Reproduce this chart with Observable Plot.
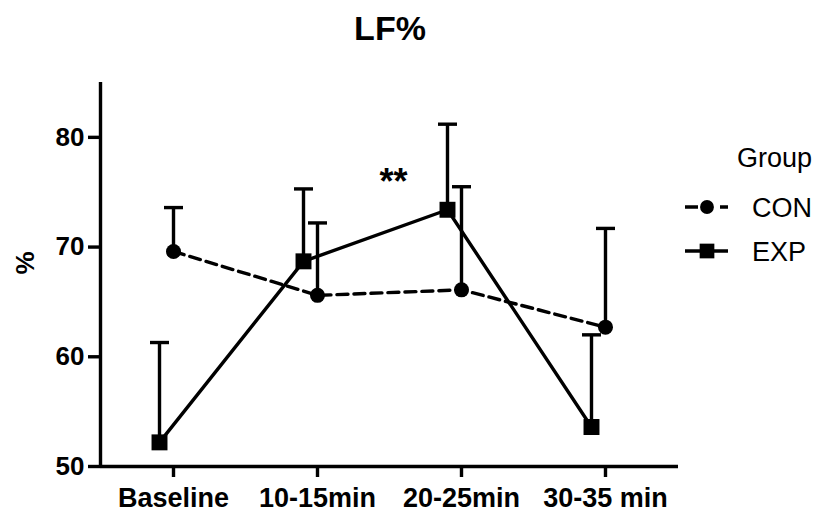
<!DOCTYPE html>
<html><head><meta charset="utf-8">
<script src="https://cdn.jsdelivr.net/npm/d3@7"></script>
<script src="https://cdn.jsdelivr.net/npm/@observablehq/plot@0.6"></script>
<style>
body{margin:0;background:#fff;}
#wrap{position:relative;width:824px;height:514px;font-family:"Liberation Sans",Arial,Helvetica,sans-serif;}
#overlay{position:absolute;left:0;top:0;pointer-events:none;}
</style></head><body><div id="wrap"></div>
<script>
const title = "LF%";
const yLabel = "%";
const legendTitle = "Group";
const categories = ["Baseline", "10-15min", "20-25min", "30-35 min"];
const groups = ["CON", "EXP"];
const conMean = [69.6, 65.6, 66.1, 62.7];
const conUpper = [73.6, 72.2, 75.5, 71.7];
const expMean = [52.2, 68.7, 73.4, 53.6];
const expUpper = [61.3, 75.3, 81.2, 62.0];
const yTicks = [50, 60, 70, 80];
const yDomain = [50, 85];
const annotationLabel = "**";
const annotationX = 1.5;   // between 10-15min and 20-25min
const annotationY = 75.9;

const FONT = '"Liberation Sans", Arial, Helvetica, sans-serif';
const SW = 3.4;
const xDomain = [-0.507, categories.length - 1 + 0.507];

const series = [
  {name: groups[0], mean: conMean, upper: conUpper, symbol: "circle", r: 7.5, dash: "11,6", dx: 0},
  {name: groups[1], mean: expMean, upper: expUpper, symbol: "square", r: 9, dash: null, dx: -14}
];

const capSymbol = {
  draw(context, size) {
    const r = Math.sqrt(size / Math.PI);
    context.moveTo(-r, 0);
    context.lineTo(r, 0);
  }
};

const marks = [];
for (const s of series) {
  const rows = categories.map((c, i) => ({i, cat: c, mean: s.mean[i], upper: s.upper[i], group: s.name}));
  marks.push(
    Plot.ruleX(rows, {x: "i", y1: "mean", y2: "upper", dx: s.dx, stroke: "black", strokeWidth: SW}),
    Plot.dot(rows, {x: "i", y: "upper", symbol: capSymbol, r: 9.5, dx: s.dx, stroke: "black", fill: "none", strokeWidth: SW}),
    Plot.line(rows, {x: "i", y: "mean", dx: s.dx, stroke: "black", strokeWidth: SW, strokeDasharray: s.dash || undefined})
  );
}
for (const s of series) {
  const rows = categories.map((c, i) => ({i, mean: s.mean[i]}));
  marks.push(Plot.dot(rows, {x: "i", y: "mean", dx: s.dx, symbol: s.symbol, r: s.r, fill: "black", stroke: "none"}));
}

const chart = Plot.plot({
  width: 824,
  height: 514,
  marginLeft: 100,
  marginRight: 146,
  marginTop: 82,
  marginBottom: 48,
  x: {type: "linear", domain: xDomain},
  y: {domain: yDomain},
  style: {fontFamily: FONT, color: "black", background: "white", overflow: "visible"},
  marks: [
    Plot.axisY({ticks: yTicks, tickSize: 12, tickPadding: 4, strokeWidth: SW, fontSize: 26, fontWeight: "bold", label: null}),
    Plot.axisX({ticks: categories.map((c, i) => i), tickFormat: i => categories[i], tickSize: 11, tickPadding: 10, strokeWidth: SW, fontSize: 27, fontWeight: "bold", label: null}),
    Plot.ruleY([yDomain[0]], {stroke: "black", strokeWidth: SW}),
    Plot.ruleX([xDomain[0]], {stroke: "black", strokeWidth: SW}),
    ...marks,
    Plot.text([annotationLabel], {x: annotationX, y: annotationY, dx: 4, text: d => d, fontSize: 36, fontWeight: "bold", fill: "black"}),
    Plot.text([yLabel], {frameAnchor: "left", dx: -75, rotate: -90, text: d => d, fontSize: 26, fontWeight: "bold", fill: "black"})
  ]
});

const wrap = document.getElementById("wrap");
wrap.appendChild(chart);

// Title and legend overlay
const ov = d3.select(wrap).append("svg").attr("id", "overlay").attr("width", 824).attr("height", 514)
  .style("font-family", FONT);
ov.append("text").attr("x", 390).attr("y", 40).attr("text-anchor", "middle")
  .attr("font-size", 34).attr("font-weight", "bold").attr("fill", "black").text(title);
ov.append("text").attr("x", 737).attr("y", 167).attr("font-size", 27).attr("fill", "black").text(legendTitle);
series.forEach((s, k) => {
  const y = 207 + 44 * k;
  ov.append("line").attr("x1", 685).attr("x2", 728).attr("y1", y).attr("y2", y)
    .attr("stroke", "black").attr("stroke-width", SW)
    .attr("stroke-dasharray", s.dash ? "13,22,8" : null);
  ov.append("path").attr("transform", `translate(707,${y})`)
    .attr("d", d3.symbol(s.symbol === "circle" ? d3.symbolCircle : d3.symbolSquare, s.r * s.r * Math.PI * 0.85)())
    .attr("fill", "black");
  ov.append("text").attr("x", 752).attr("y", y + 10).attr("font-size", 27).attr("fill", "black").text(s.name);
});
</script></body></html>
